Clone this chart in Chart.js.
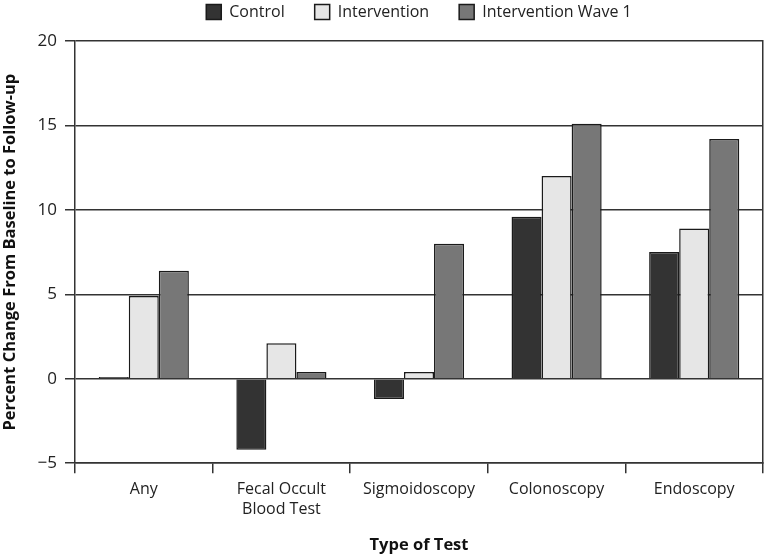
<!DOCTYPE html>
<html>
<head>
<meta charset="utf-8">
<script src="https://cdn.jsdelivr.net/npm/chart.js@4"></script>
<style>
  html, body { margin: 0; padding: 0; background: #fff; }
  #wrap { width: 767px; height: 555px; }
</style>
</head>
<body>
<div id="wrap"><canvas id="testChart"></canvas></div>
<script>
const categories = ["Any", ["Fecal Occult", "Blood Test"], "Sigmoidoscopy", "Colonoscopy", "Endoscopy"];
const controlValues = [0.1, -4.2, -1.2, 9.6, 7.5];
const interventionValues = [4.9, 2.1, 0.4, 12.0, 8.9];
const wave1Values = [6.4, 0.4, 8.0, 15.1, 14.2];
const yTicks = [-5, 0, 5, 10, 15, 20];

const fontFamily = "'Open Sans', 'Noto Sans', sans-serif";
const legendPad = 30;

// wide gaps between legend items, but keep the legend itself short
const legendFit = {
  id: "legendFit",
  beforeInit(chart) {
    const fit = chart.legend.fit;
    chart.legend.fit = function () {
      fit.bind(chart.legend)();
      this.height = 41 + legendPad - 4;
    };
  },
};

const ctx = document.getElementById("testChart").getContext("2d");

const chart = new Chart(ctx, {
  type: "bar",
  data: {
    labels: categories,
    datasets: [
      {
        label: "Control",
        data: controlValues,
        backgroundColor: "#333333",
        borderColor: "#1a1a1a",
        borderWidth: 1.5,
      },
      {
        label: "Intervention",
        data: interventionValues,
        backgroundColor: "#e6e6e6",
        borderColor: "#1a1a1a",
        borderWidth: 1.5,
      },
      {
        label: "Intervention Wave 1",
        data: wave1Values,
        backgroundColor: "#777777",
        borderColor: "#1a1a1a",
        borderWidth: 1.5,
      },
    ],
  },
  options: {
    responsive: true,
    maintainAspectRatio: false,
    animation: false,
    layout: { padding: { top: 4 - legendPad, right: 3, bottom: 0, left: 0 } },
    datasets: {
      bar: { barPercentage: 1, categoryPercentage: 0.655 },
    },
    scales: {
      x: {
        grid: {
          drawOnChartArea: false,
          drawTicks: true,
          tickLength: 10,
          color: "#333",
          lineWidth: 1.5,
        },
        border: { color: "#333", width: 1.5 },
        ticks: {
          color: "#222",
          font: { family: fontFamily, size: 16, lineHeight: 1.25 },
          maxRotation: 0,
          padding: 6,
        },
        title: {
          display: true,
          text: "Type of Test",
          color: "#111",
          font: { family: fontFamily, size: 16.5, weight: "bold" },
          padding: { top: 10, bottom: 0 },
        },
      },
      y: {
        min: -5,
        max: 20,
        afterBuildTicks: (axis) => {
          axis.ticks = yTicks.map((v) => ({ value: v }));
        },
        afterFit: (axis) => {
          axis.width = 75;
        },
        grid: {
          color: "#333",
          lineWidth: 1.5,
          tickLength: 10,
        },
        border: { color: "#333", width: 1.5 },
        ticks: {
          color: "#222",
          font: { family: fontFamily, size: 17 },
          padding: 8,
          callback: (v) => (v < 0 ? "\u2212" + Math.abs(v) : String(v)),
        },
        title: {
          display: true,
          text: "Percent Change From Baseline to Follow-up",
          color: "#111",
          font: { family: fontFamily, size: 16.5, weight: "bold" },
          padding: { top: 0, bottom: 0 },
        },
      },
      yRight: {
        position: "right",
        min: -5,
        max: 20,
        afterFit: (axis) => {
          axis.width = 1;
        },
        grid: { display: false },
        ticks: { display: false },
        border: { display: true, color: "#333", width: 1.5 },
      },
    },
    plugins: {
      legend: {
        position: "top",
        fullSize: false,
        labels: {
          color: "#222",
          font: { family: fontFamily, size: 16 },
          boxWidth: 15,
          boxHeight: 15,
          padding: legendPad,
          useBorderRadius: false,
        },
      },
      tooltip: { enabled: false },
    },
  },
  plugins: [legendFit],
});
</script>
</body>
</html>
